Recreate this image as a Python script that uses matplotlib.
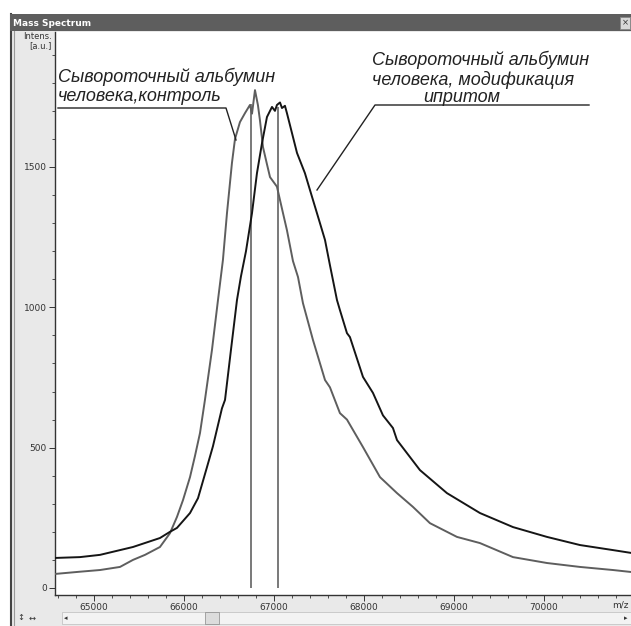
import matplotlib
matplotlib.use("Agg")
import matplotlib.pyplot as plt
from matplotlib.patches import Rectangle
from matplotlib.lines import Line2D
from matplotlib.ticker import MultipleLocator

# ---------------- data ----------------
control_mz = [64567, 64844, 65067, 65289, 65433, 65567, 65733, 65844, 65922, 65989,
              66067, 66122, 66178, 66233, 66311, 66378, 66433, 66478, 66533, 66567,
              66622, 66678, 66733, 66756, 66789, 66822, 66844, 66878, 66922, 66956,
              67033, 67100, 67144, 67211, 67267, 67322, 67433, 67567, 67622, 67733,
              67811, 67989, 68178, 68367, 68544, 68733, 69033, 69289, 69656, 70033,
              70400, 70767, 70967]
control_int = [50, 58, 64, 75, 100, 118, 146, 195, 253, 313,
               395, 470, 552, 670, 848, 1026, 1169, 1336, 1514, 1600,
               1660, 1692, 1721, 1690, 1774, 1720, 1667, 1571, 1510, 1464,
               1430, 1336, 1275, 1165, 1108, 1015, 884, 741, 715, 623,
               600, 502, 395, 338, 289, 231, 182, 160, 110, 89,
               75, 64, 57]

modified_mz = [64567, 64844, 65067, 65433, 65733, 65844, 65922, 66067, 66156, 66256,
               66322, 66422, 66456, 66522, 66589, 66633, 66689, 66756, 66811, 66867,
               66922, 66978, 67011, 67033, 67067, 67089, 67122, 67144, 67200, 67256,
               67344, 67400, 67511, 67567, 67622, 67700, 67733, 67811, 67844, 67989,
               68100, 68211, 68322, 68367, 68622, 68922, 69289, 69656, 70033, 70400,
               70767, 70967]
modified_int = [107, 110, 118, 146, 178, 200, 214, 267, 320, 431,
                505, 640, 670, 848, 1026, 1110, 1200, 1336, 1478, 1585,
                1678, 1714, 1700, 1721, 1730, 1710, 1718, 1692, 1621, 1550,
                1478, 1418, 1300, 1240, 1150, 1026, 990, 908, 894, 752,
                695, 615, 570, 527, 420, 338, 267, 217, 182, 153,
                135, 125]

peak_mz = [66744, 67044]
peak_int = [1725, 1712]

x_ticks = [65000, 66000, 67000, 68000, 69000, 70000]
y_ticks = [0, 500, 1000, 1500]

label_control = "Сывороточный альбумин\nчеловека,контроль"
label_modified_1 = "Сывороточный альбумин\nчеловека, модификация"
label_modified_2 = "ипритом"

# ---------------- figure ----------------
W, H = 631, 626
fig = plt.figure(figsize=(W / 100, H / 100), dpi=100)
fig.patch.set_facecolor("white")


def fx(px):
    return px / W


def fy(py):
    return 1 - py / H


# window frame
fig.patches.append(Rectangle((fx(10), fy(626)), fx(621), fy(14) - fy(626),
                             transform=fig.transFigure, facecolor="#e9e9e9",
                             edgecolor="none", zorder=-2))
fig.patches.append(Rectangle((fx(10), fy(31)), fx(621), fy(14) - fy(31),
                             transform=fig.transFigure, facecolor="#5e5e5e",
                             edgecolor="none", zorder=-1))
fig.lines.append(Line2D([fx(11), fx(11)], [fy(14), fy(626)], transform=fig.transFigure,
                        color="#444444", lw=1.5, zorder=-1))
fig.lines.append(Line2D([fx(14), fx(14)], [fy(31), fy(626)], transform=fig.transFigure,
                        color="#9a9a9a", lw=0.8, zorder=-1))
fig.text(fx(13), fy(23), "Mass Spectrum", color="white", fontsize=6.5,
         fontweight="bold", va="center", ha="left", family="DejaVu Sans")
# close button
fig.patches.append(Rectangle((fx(620), fy(29)), fx(10), fy(17) - fy(29),
                             transform=fig.transFigure, facecolor="#d8d8d8",
                             edgecolor="#888888", lw=0.6, zorder=3))
fig.text(fx(625), fy(23), "×", color="#333333", fontsize=6, ha="center",
         va="center", zorder=4)

# bottom scrollbar
fig.patches.append(Rectangle((fx(62), fy(624)), fx(569), fy(612) - fy(624),
                             transform=fig.transFigure, facecolor="#f3f3f3",
                             edgecolor="#bdbdbd", lw=0.5, zorder=2))
fig.patches.append(Rectangle((fx(205), fy(624)), fx(14), fy(612) - fy(624),
                             transform=fig.transFigure, facecolor="#dcdcdc",
                             edgecolor="#888888", lw=0.5, zorder=3))
fig.text(fx(66), fy(618), "◂", fontsize=5, color="#333333", ha="center", va="center")
fig.text(fx(626), fy(618), "▸", fontsize=5, color="#333333", ha="center", va="center")
fig.text(fx(21), fy(618), "↕", fontsize=6, color="#333333", ha="center", va="center")
fig.text(fx(32), fy(618), "↔", fontsize=6, color="#333333", ha="center", va="center")

# ---------------- axes ----------------
ax = fig.add_axes([fx(55), fy(595), fx(631) - fx(55), fy(32) - fy(595)])
ax.set_zorder(5)
ax.set_facecolor("white")
ax.plot(control_mz, control_int, color="#5e5e5e", lw=1.4, zorder=3)
ax.plot(modified_mz, modified_int, color="#151515", lw=1.4, zorder=4)
ax.vlines(peak_mz, 0, peak_int, color="#6e6e6e", lw=1.3, zorder=2)

ax.set_xlim(64567, 70967)
ax.set_ylim(-25, 1981)
ax.set_xticks(x_ticks)
ax.set_yticks(y_ticks)
ax.xaxis.set_minor_locator(MultipleLocator(200))
ax.yaxis.set_minor_locator(MultipleLocator(100))
tick_font = ["Liberation Sans Narrow", "DejaVu Sans"]
ax.set_xticklabels([str(v) for v in x_ticks], family=tick_font, fontsize=6.5, color="#333333")
ax.set_yticklabels([str(v) for v in y_ticks], family=tick_font, fontsize=6.5, color="#333333")
ax.tick_params(axis="both", which="major", length=4, width=0.7, color="#333333", pad=2)
ax.tick_params(axis="both", which="minor", length=2, width=0.6, color="#333333")
for s in ("top", "right"):
    ax.spines[s].set_visible(False)
for s in ("left", "bottom"):
    ax.spines[s].set_color("#333333")
    ax.spines[s].set_linewidth(1.0)

fig.text(fx(620), fy(605), "m/z", family=tick_font, fontsize=6.5, color="#333333",
         ha="center", va="center")
fig.text(fx(52), fy(41), "Intens.\n[a.u.]", family=tick_font, fontsize=6,
         color="#333333", ha="right", va="center", linespacing=1.1)

# ---------------- annotations ----------------
ann_font = ["Liberation Sans", "DejaVu Sans"]
fig.text(fx(58), fy(86), label_control, family=ann_font, style="italic",
         fontsize=13, color="#222222", ha="left", va="center", linespacing=1.15,
         zorder=10)
fig.lines.append(Line2D([fx(58), fx(226), fx(236)], [fy(108), fy(108), fy(140)],
                        transform=fig.transFigure, color="#222222", lw=1.0, zorder=10))

fig.text(fx(372), fy(70), label_modified_1, family=ann_font, style="italic",
         fontsize=13, color="#222222", ha="left", va="center", linespacing=1.15,
         zorder=10)
fig.text(fx(462), fy(98), label_modified_2, family=ann_font, style="italic",
         fontsize=13, color="#222222", ha="center", va="center", zorder=10)
fig.lines.append(Line2D([fx(589), fx(375), fx(317)], [fy(105), fy(105), fy(190)],
                        transform=fig.transFigure, color="#222222", lw=1.0, zorder=10))

fig.savefig("out.png", dpi=100, facecolor=fig.get_facecolor())
